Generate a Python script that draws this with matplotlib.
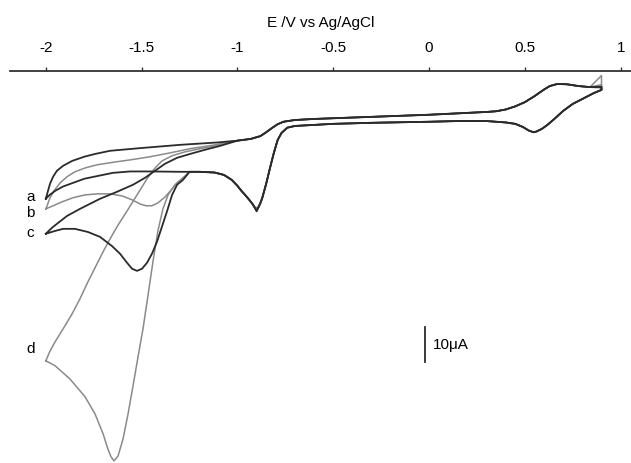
import matplotlib
matplotlib.use("Agg")
import matplotlib.pyplot as plt

plt.rcParams["font.family"] = ["Liberation Sans", "DejaVu Sans"]
plt.rcParams["axes.unicode_minus"] = False

# potentials in V vs Ag/AgCl, currents in uA (cathodic = negative)
# part of the scan that all four runs share
common_up_V = [-1.0, -0.93, -0.88, -0.85, -0.82, -0.79, -0.76, -0.7, -0.6, -0.5, -0.25, 0.0,
               0.15, 0.3, 0.35, 0.4, 0.45, 0.5, 0.55, 0.6, 0.63, 0.67, 0.72, 0.78, 0.84]
common_up_I = [-4.8, -4.3, -3.5, -2.4, -1.2, -0.1, 0.6, 1.1, 1.4, 1.6, 2.1, 2.6,
               3.0, 3.4, 3.6, 4.1, 5.0, 6.2, 7.9, 9.8, 10.8, 11.4, 11.3, 10.8, 10.5]
common_lo_V = [0.9, 0.86, 0.8, 0.75, 0.7, 0.66, 0.62, 0.59, 0.56, 0.545, 0.52, 0.49, 0.45,
               0.4, 0.3, 0.15, 0.0, -0.3, -0.5, -0.6, -0.7, -0.74, -0.77, -0.79, -0.81,
               -0.83, -0.85, -0.87, -0.88, -0.89]
common_lo_I = [9.7, 8.8, 7.1, 5.7, 3.7, 1.7, -0.2, -1.4, -2.2, -2.4, -1.9, -0.9, 0.0,
               0.4, 0.8, 0.8, 0.6, 0.3, 0.0, -0.3, -0.6, -1.1, -2.6, -4.6, -8.3,
               -12.6, -17.1, -21.1, -22.6, -23.8]
hump_V = [-0.91, -0.92, -0.94, -0.96, -0.98, -1.0, -1.03, -1.07, -1.12, -1.2, -1.25]
hump_I = [-23.9, -23.0, -21.6, -20.3, -19.1, -17.7, -16.0, -14.6, -13.9, -13.7, -13.7]

# per-run values
vertex_V = 0.9
vertex_I = [10.6, 13.8, 10.4, 11.2]
peak_V = -0.9
peak_I = [-24.8, -23.9, -25.0, -24.0]

a_up_V = [-2.0, -1.99, -1.978, -1.962, -1.942, -1.91, -1.863, -1.8, -1.743, -1.665, -1.5,
          -1.3, -1.1]
a_up_I = [-21.4, -19.4, -17.1, -15.1, -13.4, -12.0, -10.6, -9.4, -8.6, -7.7, -6.9,
          -6.0, -5.3]
a_lo_V = [-1.3, -1.45, -1.56, -1.65, -1.73, -1.8, -1.86, -1.91, -1.95, -1.98, -2.0]
a_lo_I = [-13.7, -13.6, -13.6, -14.0, -14.9, -15.7, -16.9, -17.9, -19.1, -20.3, -21.4]

b_up_V = [-2.0, -1.99, -1.978, -1.957, -1.926, -1.889, -1.848, -1.795, -1.733, -1.639,
          -1.56, -1.456, -1.352, -1.247, -1.117]
b_up_I = [-24.3, -22.9, -21.1, -19.1, -16.9, -15.1, -13.7, -12.6, -11.7, -10.9,
          -10.3, -9.4, -8.3, -7.1, -6.0]
b_lo_V = [-1.273, -1.31, -1.341, -1.378, -1.415, -1.446, -1.477, -1.508, -1.55, -1.602,
          -1.665, -1.733, -1.795, -1.858, -1.916, -1.962, -2.0]
b_lo_I = [-15.1, -16.6, -18.6, -20.9, -22.6, -23.4, -23.4, -22.9, -21.7, -20.6,
          -20.0, -20.0, -20.3, -21.1, -22.3, -23.4, -24.3]

c_up_V = [-2.0, -1.968, -1.936, -1.889, -1.822, -1.717, -1.628, -1.545, -1.482, -1.43,
          -1.378, -1.315, -1.247, -1.169, -1.091]
c_up_I = [-31.4, -29.7, -28.3, -26.3, -24.3, -21.4, -19.4, -17.4, -15.4, -13.4,
          -11.4, -9.7, -8.6, -7.4, -6.3]
c_lo_V = [-1.284, -1.315, -1.341, -1.367, -1.394, -1.42, -1.446, -1.472, -1.498, -1.524,
          -1.55, -1.576, -1.613, -1.655, -1.717, -1.78, -1.848, -1.91, -1.952, -2.0]
c_lo_I = [-16.0, -17.4, -20.3, -24.9, -29.4, -33.7, -37.1, -39.7, -41.4, -42.0,
          -41.4, -39.7, -37.1, -34.9, -32.3, -30.9, -30.0, -30.0, -30.6, -31.4]

d_up_V = [-2.0, -1.978, -1.952, -1.91, -1.863, -1.822, -1.78, -1.733, -1.696, -1.665,
          -1.623, -1.576, -1.524, -1.472, -1.43, -1.394, -1.341, -1.273, -1.195, -1.117]
d_up_I = [-67.7, -64.9, -62.3, -58.6, -54.3, -50.0, -45.1, -40.0, -36.0, -32.9,
          -28.9, -24.9, -20.3, -15.7, -12.6, -10.6, -9.1, -8.0, -7.1, -6.3]
d_lo_V = [-1.284, -1.326, -1.362, -1.389, -1.415, -1.441, -1.467, -1.493, -1.519, -1.545,
          -1.571, -1.597, -1.623, -1.644, -1.66, -1.676, -1.701, -1.743, -1.795, -1.874,
          -1.952, -2.0]
d_lo_I = [-15.4, -17.4, -20.3, -24.3, -30.6, -39.4, -49.1, -58.6, -66.6, -74.9,
          -82.9, -90.0, -94.9, -96.3, -95.1, -92.9, -88.6, -82.9, -78.0, -72.9,
          -69.1, -67.7]

labels = ["a", "b", "c", "d"]
label_I = [-20.6, -25.1, -30.9, -64.0]
colors = ["#2b2b2b", "#8a8a8a", "#2b2b2b", "#8a8a8a"]
widths = [1.3, 1.1, 1.3, 1.1]

xticks = [-2, -1.5, -1, -0.5, 0, 0.5, 1]
xticklabels = ["-2", "-1.5", "-1", "-0.5", "0", "0.5", "1"]

runs = [(a_up_V, a_up_I, a_lo_V, a_lo_I),
        (b_up_V, b_up_I, b_lo_V, b_lo_I),
        (c_up_V, c_up_I, c_lo_V, c_lo_I),
        (d_up_V, d_up_I, d_lo_V, d_lo_I)]

fig = plt.figure(figsize=(6.31, 4.64), dpi=100)
ax = fig.add_axes([10 / 631, 0.0, 621 / 631, 1 - 72 / 464])

order = [1, 3, 0, 2]  # grey runs underneath
for k in order:
    upV, upI, loV, loI = runs[k]
    V = upV + common_up_V + [vertex_V] + common_lo_V + [peak_V] + hump_V + loV
    I = upI + common_up_I + [vertex_I[k]] + common_lo_I + [peak_I[k]] + hump_I + loI
    ax.plot(V, I, color=colors[k], lw=widths[k], solid_joinstyle="round")
    ax.text(-2.08, label_I[k], labels[k], fontsize=11, ha="center", va="center")

# 10 uA scale bar
ax.plot([-0.02, -0.02], [-58.0, -68.0], color="#2b2b2b", lw=1.3)
ax.text(0.02, -62.9, "10μA", fontsize=11, ha="left", va="center")

ax.set_xlim(-2.187, 1.054)
ax.set_ylim(-96.9, 15.1)
ax.xaxis.tick_top()
ax.xaxis.set_label_position("top")
ax.set_xticks(xticks)
ax.set_xticklabels(xticklabels)
ax.set_yticks([])
ax.tick_params(axis="x", direction="out", length=3, width=1, pad=9, labelsize=11, color="#333333")
for side in ["bottom", "left", "right"]:
    ax.spines[side].set_visible(False)
ax.spines["top"].set_color("#333333")
ax.spines["top"].set_linewidth(1.3)
ax.set_xlabel("E /V vs Ag/AgCl", fontsize=11, labelpad=10)
ax.patch.set_alpha(0)

fig.savefig("out.png", dpi=100)
